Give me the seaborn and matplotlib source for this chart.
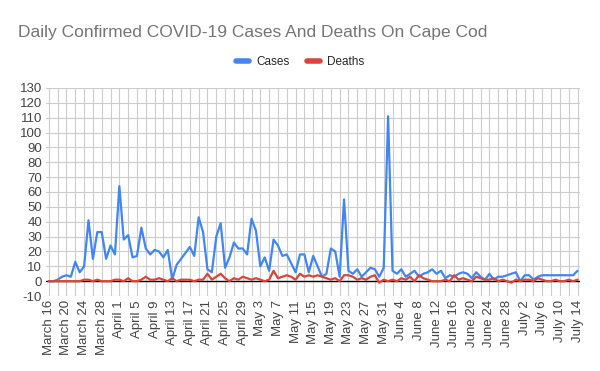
import pandas as pd
import seaborn as sns
import matplotlib.pyplot as plt
from matplotlib.lines import Line2D

# Daily values, March 16 -> July 14
dates = pd.date_range("2020-03-16", "2020-07-14", freq="D")
day_labels = [f"{d:%B} {d.day}" for d in dates]

cases = [0, 0, 1, 3, 4, 3, 13, 6, 10, 41, 15, 33, 33, 15, 24, 18,
         64, 28, 31, 16, 17, 36, 22, 18, 21, 20, 16, 21, 1, 11, 15,
         19, 23, 17, 43, 33, 8, 6, 30, 39, 9, 16, 26, 22, 22, 18,
         42, 34, 10, 16, 7, 28, 24, 17, 18, 12, 6, 18, 18, 6, 17,
         10, 3, 5, 22, 20, 3, 55, 7, 5, 8, 3, 6, 9, 8, 3,
         9, 111, 7, 5, 8, 3, 5, 7, 3, 5, 6, 8, 5, 7, 2,
         4, 3, 5, 6, 5, 2, 6, 3, 1, 5, 1, 3, 3, 4, 5,
         6, 0, 4, 4, 1, 3, 4, 4, 4, 4, 4, 4, 4, 4, 7]

deaths = [0, 0, 0, 0, 0, 0, 0, 0, 1, 1, 0, 1, 0, 0, 0, 1,
          1, 0, 2, 0, 0, 1, 3, 1, 1, 2, 1, 0, 2, 0, 1,
          1, 1, 0, 1, 1, 5, 1, 3, 5, 2, 0, 2, 1, 3, 2,
          1, 2, 1, 0, 1, 7, 2, 3, 4, 3, 1, 5, 3, 4, 3,
          4, 3, 2, 1, 2, 0, 4, 4, 3, 1, 2, 1, 3, 4, -1,
          1, 0, 1, 0, 2, 1, 3, 0, 4, 2, 1, 0, 0, 0, 1,
          0, 4, 1, 2, 1, 0, 3, 2, 1, 1, 2, 0, 1, 0, -1,
          1, 0, 1, 1, 0, 2, 1, 0, 0, 1, 0, 0, 1, 0, 1]

y_ticks = list(range(-10, 131, 10))

df = pd.DataFrame({"day": range(len(dates)), "Cases": cases, "Deaths": deaths})
long_df = df.melt(id_vars="day", var_name="series", value_name="count")

sns.set_theme(style="whitegrid")
plt.rcParams['font.family'] = ['Liberation Sans', 'DejaVu Sans']

palette = {"Cases": "#4285F4", "Deaths": "#DB4437"}

fig, ax = plt.subplots(figsize=(6, 3.71), dpi=100)
fig.subplots_adjust(left=0.077, right=0.967, top=0.763, bottom=0.202)

ax.axhline(0, color="black", lw=1, zorder=1)
sns.lineplot(data=long_df, x="day", y="count", hue="series", palette=palette,
             lw=1.6, ax=ax, legend=False, zorder=3)

ax.set_xlim(-0.6, len(dates) - 0.4)
ax.set_ylim(-10, 130)
ax.set_yticks(y_ticks)
ax.set_yticklabels([str(v) for v in y_ticks], fontsize=9.5, color="#444444")

xt = list(range(0, len(dates), 2))
ax.set_xticks(xt)
ax.set_xticklabels([day_labels[i] if i % 4 == 0 else "" for i in xt],
                   rotation=90, fontsize=9.5, color="#444444")
ax.tick_params(length=0, pad=3)
ax.set_xlabel("")
ax.set_ylabel("")

ax.grid(True, color="#cccccc", lw=0.8)
for s in ax.spines.values():
    s.set_visible(False)

fig.text(0.03, 0.912, "Daily Confirmed COVID-19 Cases And Deaths On Cape Cod",
         fontsize=12.5, color="#757575", ha="left", va="center")

handles = [Line2D([], [], color=palette[k], lw=4) for k in ["Cases", "Deaths"]]
fig.legend(handles, ["Cases", "Deaths"], loc="center", bbox_to_anchor=(0.5, 0.833),
           ncol=2, frameon=False, fontsize=8.5, handlelength=1.1,
           columnspacing=1.5, handletextpad=0.6)

fig.savefig("out.png", dpi=100)
plt.close()
